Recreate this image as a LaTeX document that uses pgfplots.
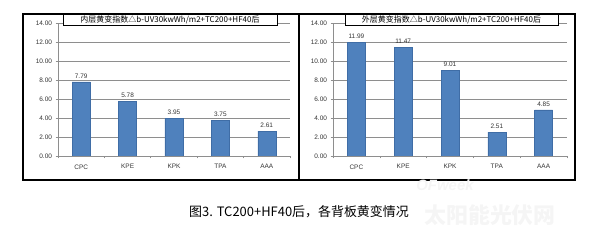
\documentclass[border=0pt]{standalone}
\usepackage{fontspec}
\setmainfont{Liberation Sans}
\newfontfamily\cjk{Noto Sans CJK SC}
\usepackage{pgfplots}
\pgfplotsset{compat=1.18}
\definecolor{barblue}{HTML}{4F81BD}
\definecolor{bardark}{HTML}{3F6DA6}
\definecolor{gridgray}{HTML}{8E8E8E}

\pgfplotsset{
  panel/.style={
    scale only axis, anchor=south west,
    height=133bp,
    xmin=-0.5, xmax=4.5, ymin=0, ymax=14,
    xtick={0,...,4}, xticklabels={CPC,KPE,KPK,TPA,AAA},
    minor xtick={-0.5,0.5,...,4.5},
    ytick={0,2,...,14},
    major x tick style={draw=none},
    major tick length=2.5bp, minor tick length=2.5bp,
    tick align=outside,
    axis lines*=left,
    axis line style={gridgray, line width=0.6bp},
    tick style={gridgray, line width=0.6bp},
    ymajorgrids, grid style={gridgray, line width=0.5bp},
    y tick label style={font=\fontsize{6.5}{7}\selectfont, text=black!80,
      /pgf/number format/.cd, fixed, fixed zerofill, precision=2, assume math mode=true},
    x tick label style={font=\fontsize{6.5}{7}\selectfont, text=black!80, yshift=-2.5bp},
    ybar, bar width=18bp,
    nodes near coords,
    every node near coord/.append style={font=\fontsize{6.5}{7}\selectfont, text=black!80,
      /pgf/number format/.cd, fixed, fixed zerofill, precision=2, assume math mode=true},
  },
}

\begin{document}
\begin{tikzpicture}
\path[use as bounding box] (0bp,0bp) rectangle (600bp,240bp);

% inner layer
\begin{axis}[panel, at={(58bp,84bp)}, width=232bp]
\addplot[fill=barblue, draw=bardark, line width=0.3bp] coordinates {
  (0,7.79) (1,5.78) (2,3.95) (3,3.75) (4,2.61)};
\end{axis}

% outer layer
\begin{axis}[panel, at={(333bp,84bp)}, width=234bp]
\addplot[fill=barblue, draw=bardark, line width=0.3bp] coordinates {
  (0,11.99) (1,11.47) (2,9.01) (3,2.51) (4,4.85)};
\end{axis}

% panel frames
\draw[black, line width=1.3bp] (23bp,60bp) rectangle (299bp,226bp);
\draw[black, line width=1.3bp] (299bp,60bp) rectangle (575bp,226bp);

% panel titles
\node[draw=black, line width=0.9bp, fill=white, minimum width=214bp, minimum height=11bp,
      inner sep=0pt, font=\cjk\fontsize{8}{9}\selectfont] at (170bp,220.5bp)
  {内层黄变指数△b-UV30kwWh/m2+TC200+HF40后};
\node[draw=black, line width=0.9bp, fill=white, minimum width=213bp, minimum height=11bp,
      inner sep=0pt, font=\cjk\fontsize{8}{9}\selectfont] at (451.5bp,220.5bp)
  {外层黄变指数△b-UV30kwWh/m2+TC200+HF40后};

% watermark
\node[text=black!4, font=\fontsize{15}{16}\selectfont\bfseries\itshape] at (445bp,55bp) {OFweek};
\node[text=black!4, font=\cjk\fontsize{22}{24}\selectfont\bfseries] at (490bp,25bp) {太阳能光伏网};

% caption
\node[font=\cjk\fontsize{13}{14}\selectfont] at (299bp,28bp) {图3. TC200+HF40后，各背板黄变情况};
\end{tikzpicture}
\end{document}
